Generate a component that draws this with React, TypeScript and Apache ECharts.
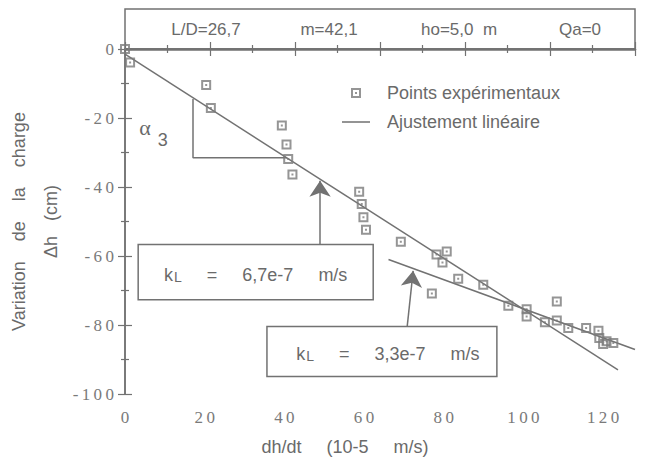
import React, { useEffect, useRef } from "react";
import * as echarts from "echarts";

// Experimental points (dh/dt in 10-5 m/s, Δh in cm)
const expX = [0, 1.2, 19.1, 20.2, 36.9, 38.0, 38.4, 39.4, 55.1, 55.7, 56.1, 56.7, 64.9, 73.3, 75.7, 74.7, 78.4, 72.2, 84.3, 90.2, 94.5, 94.5, 98.8, 101.6, 101.6, 104.3, 108.5, 111.4, 111.6, 113.3, 114.9, 112.5];
const expY = [0, -3.9, -10.4, -17.1, -22.2, -27.7, -31.9, -36.4, -41.4, -44.9, -48.8, -52.4, -55.9, -59.6, -58.7, -61.9, -66.6, -70.9, -68.3, -74.4, -75.4, -77.5, -79.2, -78.7, -73.2, -80.9, -80.9, -81.7, -83.8, -84.7, -85.2, -85.5];

// Linear fits
const fit1X = [0, 116];
const fit1Y = [-1.5, -93];
const fit2X = [62, 120];
const fit2Y = [-61, -87.1];

// Slope triangle (α3)
const triX = [16, 16, 38.1];
const triY = [-14.5, -31.5, -31.5];

// Tick labels
const xTickLabels = ["0", "20", "40", "60", "80", "100", "120"];
const yTickLabels = ["-100", "-80", "-60", "-40", "-20", "0"];

const headerTexts = ["L/D=26,7", "m=42,1", "ho=5,0  m", "Qa=0"];
const legendNames = ["Points expérimentaux", "Ajustement linéaire"];
const box1Text = ["k", "L", "     =     6,7e-7     m/s"];
const box2Text = ["k", "L", "     =     3,3e-7     m/s"];

const GRAY = "#727272";
const TXT = "#6a6a6a";
const SANS = "'Liberation Sans', Arial, sans-serif";
const SERIF = "'Liberation Serif', 'Times New Roman', serif";

const markerPath = "path://M0,0H10V10H0Z M2,2V8H8V2Z M4,4H6V6H4Z";
const lineIcon = "path://M0,0L0,0Z M0,4.3H28V5.7H0Z M28,10L28,10Z";

const spaced = (s: string) => s.split("").join("\u2009");

export default function App() {
  const ref = useRef<HTMLDivElement>(null);
  useEffect(() => {
    if (!ref.current) return;
    const chart = echarts.init(ref.current, null, { renderer: "svg" });
    const pts = expX.map((x, i) => [x, expY[i]]);
    const f1 = fit1X.map((x, i) => [x, fit1Y[i]]);
    const f2 = fit2X.map((x, i) => [x, fit2Y[i]]);
    const tri = triX.map((x, i) => [x, triY[i]]);
    const boxLabel = (t: string[], shift: number) => ({
      show: true,
      position: "inside",
      formatter: `{k|${t[0]}}{l|${t[1]}}{t|${t[2]}}`,
      padding: [0, 0, 0, shift],
      rich: {
        k: { fontSize: 18, fontFamily: SANS, color: TXT, lineHeight: 24, verticalAlign: "bottom" },
        l: { fontSize: 14, fontFamily: SANS, color: TXT, lineHeight: 12, verticalAlign: "bottom", padding: [0, 0, 0, 1] },
        t: { fontSize: 18, fontFamily: SANS, color: TXT, lineHeight: 24, verticalAlign: "bottom" },
      },
    });
    const headerX = [206, 329, 459, 580];
    chart.setOption({
      animation: false,
      backgroundColor: "#fff",
      grid: { left: 125, right: 24, top: 49, bottom: 80, containLabel: false, outerBoundsMode: "none" },
      legend: {
        data: [
          { name: legendNames[0], icon: markerPath },
          { name: legendNames[1], icon: lineIcon },
        ],
        orient: "vertical",
        left: 342,
        top: 84,
        padding: 0,
        itemGap: 11,
        itemWidth: 28,
        itemHeight: 10,
        textStyle: { fontSize: 18, color: TXT, fontFamily: SANS, padding: [0, 0, 0, 12] },
      },
      xAxis: [
        {
          type: "value", min: 0, max: 120, interval: 20, position: "bottom",
          axisLine: { show: true, lineStyle: { color: GRAY, width: 1.5 } },
          axisTick: { show: true, inside: true, length: 7, lineStyle: { color: GRAY, width: 1.2 } },
          minorTick: { show: true, splitNumber: 2, length: 4, lineStyle: { color: GRAY, width: 1.2 } },
          axisLabel: { show: false },
          splitLine: { show: false },
        },
        {
          type: "value", min: 0, max: 120, interval: 20, position: "top",
          axisLine: { show: true, lineStyle: { color: GRAY, width: 2.5 } },
          axisTick: { show: true, inside: true, length: 7, lineStyle: { color: GRAY, width: 1.2 } },
          minorTick: { show: true, splitNumber: 2, length: 4, lineStyle: { color: GRAY, width: 1.2 } },
          axisLabel: { show: false },
          splitLine: { show: false },
        },
        {
          type: "value", min: 0, max: 128, interval: 20, position: "bottom",
          name: "dh/dt     (10-5     m/s)",
          nameLocation: "middle",
          nameGap: 44,
          nameMoveOverlap: false,
          nameTextStyle: { fontSize: 18, color: TXT, fontFamily: SANS, padding: [0, 70, 0, 0] },
          axisLine: { show: false },
          axisTick: { show: false },
          splitLine: { show: false },
          axisLabel: {
            show: true, margin: 15, fontSize: 17, color: "#7a7a7a", fontFamily: SERIF,
            showMaxLabel: false, hideOverlap: false,
            formatter: (v: number) => {
              const idx = Math.round(v / 20);
              return xTickLabels[idx] !== undefined ? spaced(xTickLabels[idx]) : "";
            },
          },
        },
      ],
      yAxis: [
        {
          type: "value", min: -100, max: 0, interval: 20, position: "left",
          name: "Variation    de    la    charge\nΔh   (cm)",
          nameLocation: "middle",
          nameRotate: 90,
          nameGap: 58,
          nameMoveOverlap: false,
          nameTextStyle: { fontSize: 18, color: TXT, fontFamily: SANS, lineHeight: 32, padding: [0, 0, 0, 0] },
          axisLine: { show: true, lineStyle: { color: GRAY, width: 1.5 } },
          axisTick: { show: true, inside: true, length: 7, lineStyle: { color: GRAY, width: 1.2 } },
          minorTick: { show: true, splitNumber: 2, length: 4, lineStyle: { color: GRAY, width: 1.2 } },
          splitLine: { show: false },
          axisLabel: {
            show: true, margin: 11, fontSize: 17, color: "#7a7a7a", fontFamily: SERIF,
            formatter: (v: number) => {
              const idx = Math.round((v + 100) / 20);
              return yTickLabels[idx] !== undefined ? spaced(yTickLabels[idx]) : "";
            },
          },
        },
        {
          type: "value", min: -100, max: 0, interval: 20, position: "right",
          axisLine: { show: true, lineStyle: { color: GRAY, width: 1.5 } },
          axisTick: { show: true, inside: true, length: 7, lineStyle: { color: GRAY, width: 1.2 } },
          minorTick: { show: true, splitNumber: 2, length: 4, lineStyle: { color: GRAY, width: 1.2 } },
          axisLabel: { show: false },
          splitLine: { show: false },
        },
      ],
      graphic: [
        {
          type: "rect",
          shape: { x: 125, y: 9, width: 510, height: 40 },
          style: { fill: "none", stroke: GRAY, lineWidth: 1.5 },
          silent: true,
        },
        ...headerTexts.map((t, i) => ({
          type: "text",
          x: headerX[i],
          y: 29,
          style: { text: t, fill: TXT, font: `17px ${SANS}`, align: "center", verticalAlign: "middle" },
          silent: true,
        })),
      ],
      series: [
        {
          name: legendNames[1],
          type: "line",
          data: f1,
          symbol: "none",
          lineStyle: { color: GRAY, width: 1.5 },
          itemStyle: { color: GRAY },
          z: 2,
          markArea: {
            silent: true,
            itemStyle: { color: "#fff", borderColor: GRAY, borderWidth: 1.5 },
            data: [
              [{ coord: [3.1, -56.7], label: boxLabel(box1Text, 0) }, { coord: [58.4, -72.7] }],
              [{ coord: [33.4, -80.4], label: boxLabel(box2Text, 12) }, { coord: [87.5, -94.9] }],
            ],
          },
          markLine: {
            silent: true,
            symbol: ["none", "arrow"],
            symbolSize: 16,
            label: { show: false },
            lineStyle: { color: GRAY, width: 1.5, type: "solid" },
            itemStyle: { color: GRAY },
            data: [
              [{ coord: [45.9, -56.7] }, { coord: [45.9, -38.2] }],
              [{ coord: [66.4, -80.4] }, { coord: [67.8, -64.3] }],
            ],
          },
        },
        {
          name: "fit2",
          type: "line",
          data: f2,
          symbol: "none",
          lineStyle: { color: GRAY, width: 1.5 },
          z: 2,
        },
        {
          name: "triangle",
          type: "line",
          data: tri,
          symbol: "none",
          lineStyle: { color: GRAY, width: 1.5 },
          z: 2,
          markPoint: {
            silent: true,
            symbol: "circle",
            symbolSize: 1,
            itemStyle: { color: "rgba(0,0,0,0)" },
            data: [
              {
                coord: [4.7, -22.8],
                label: { show: true, position: "inside", formatter: "α", fontSize: 22, fontFamily: SERIF, color: TXT },
              },
              {
                coord: [8.9, -26.5],
                label: { show: true, position: "inside", formatter: "3", fontSize: 18, fontFamily: SANS, color: TXT },
              },
            ],
          },
        },
        {
          name: legendNames[0],
          type: "scatter",
          data: pts,
          symbol: markerPath,
          symbolSize: 10,
          symbolKeepAspect: true,
          itemStyle: { color: "#7a7a7a" },
          z: 3,
        },
      ],
    });
    return () => chart.dispose();
  }, []);
  return <div ref={ref} style={{ position: "fixed", left: 0, top: 0, width: 659, height: 474 }} />;
}
